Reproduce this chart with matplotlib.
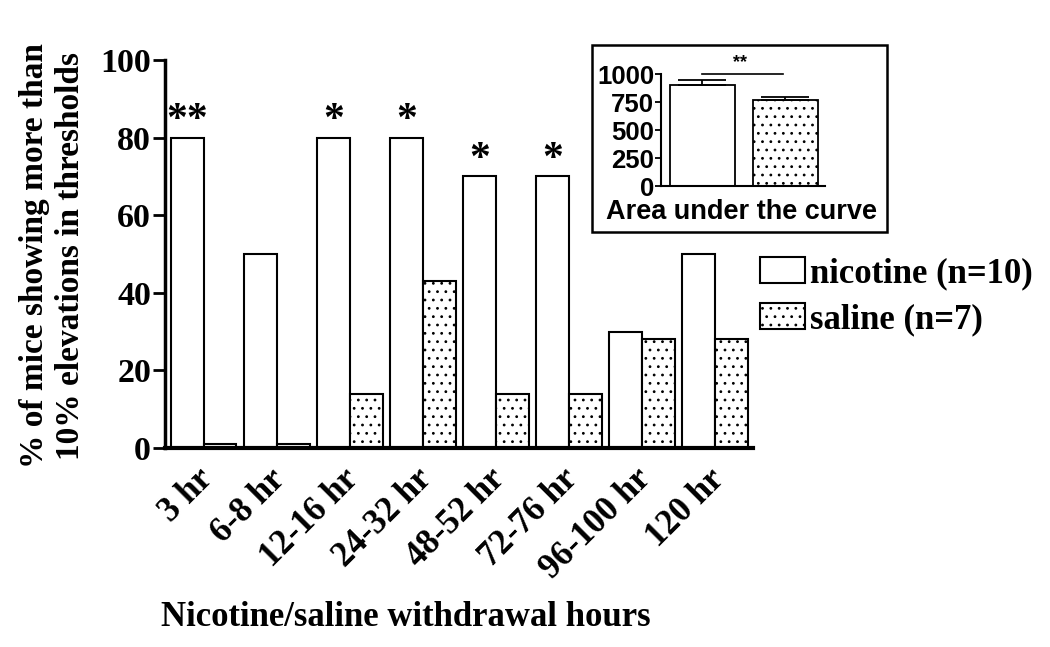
import numpy as np
import matplotlib
matplotlib.use("Agg")
import matplotlib.pyplot as plt
from matplotlib.patches import Rectangle

# ---------------- data ----------------
categories = ["3 hr", "6-8 hr", "12-16 hr", "24-32 hr", "48-52 hr", "72-76 hr", "96-100 hr", "120 hr"]
nicotine = [80, 50, 80, 80, 70, 70, 30, 50]
saline = [1, 1, 14, 43, 14, 14, 28, 28]
stars = ["**", "", "*", "*", "*", "*", "", ""]
series_labels = ["nicotine (n=10)", "saline (n=7)"]
yticks = [0, 20, 40, 60, 80, 100]

auc_groups = ["nicotine", "saline"]
auc_values = [902, 768]
auc_err = [44, 29]
auc_yticks = [0, 250, 500, 750, 1000]

plt.rcParams["hatch.linewidth"] = 0.8

# ---------------- figure ----------------
W, H = 1050, 647
fig = plt.figure(figsize=(W / 100, H / 100), dpi=100)

def fx(px):
    return px / W

def fy(py):
    return 1 - py / H

serif = ["Liberation Serif", "DejaVu Serif"]
sans = ["Liberation Sans", "DejaVu Sans"]

ax = fig.add_axes([fx(165), fy(448), fx(753) - fx(165), fy(60) - fy(448)])

x = np.arange(len(categories))
w = 0.45
ax.bar(x - w / 2, nicotine, w, color="white", edgecolor="black", linewidth=1.5,
       label=series_labels[0], zorder=2)
ax.bar(x + w / 2, saline, w, color="white", edgecolor="black", linewidth=1.5,
       hatch="..", label=series_labels[1], zorder=2)

for xi, v, s in zip(x, nicotine, stars):
    if s:
        ax.annotate(s, (xi - w / 2, v), xytext=(0, -2), textcoords="offset points",
                    ha="center", va="bottom", fontsize=30, fontweight="bold",
                    family=serif)

ax.set_xlim(-0.527, 7.517)
ax.set_ylim(0, 100)
ax.set_yticks(yticks)
ax.set_yticklabels([str(t) for t in yticks], fontsize=24.5, fontweight="bold", family=serif)
# invisible ticks, nudged slightly right so the rotated labels sit like the original
ax.set_xticks(x + 0.055)
ax.set_xticklabels(categories, rotation=45, ha="right", va="center",
                   rotation_mode="anchor", fontsize=25, fontweight="bold", family=serif)
ax.tick_params(axis="x", length=0, pad=19)
ax.tick_params(axis="y", length=9, width=2, pad=1)
for sp in ["top", "right"]:
    ax.spines[sp].set_visible(False)
ax.spines["left"].set_linewidth(2.5)
ax.spines["bottom"].set_linewidth(3)

ax.set_ylabel("% of mice showing more than\n10% elevations in thresholds",
              fontsize=24, fontweight="bold", family=serif, linespacing=1.2)
ax.yaxis.set_label_coords(fx(86), fy(256), transform=fig.transFigure)
ax.set_xlabel("Nicotine/saline withdrawal hours", fontsize=25, fontweight="bold",
              family=serif)
ax.xaxis.set_label_coords(fx(406), fy(601), transform=fig.transFigure)

ax.legend(loc="upper left", bbox_to_anchor=(fx(760), fy(257)),
          bbox_transform=fig.transFigure, frameon=False,
          prop={"family": serif, "weight": "bold", "size": 25},
          handlelength=1.3, handleheight=0.78, handletextpad=0.15,
          labelspacing=0.38, borderpad=0, borderaxespad=0)

# ---------------- inset ----------------
fig.patches.append(Rectangle((fx(592), fy(232)), fx(887) - fx(592), fy(45) - fy(232),
                             transform=fig.transFigure, fill=False, edgecolor="black",
                             linewidth=1.8))

iax = fig.add_axes([fx(661), fy(186), fx(825) - fx(661), fy(74) - fy(186)])
ix = np.arange(len(auc_groups))
iw = 0.78
iax.bar(ix[0], auc_values[0], iw, color="white", edgecolor="black", linewidth=1.3)
iax.bar(ix[1], auc_values[1], iw, color="white", edgecolor="black", linewidth=1.3, hatch="..")
iax.errorbar(ix, auc_values, yerr=[[0, 0], auc_err], fmt="none", ecolor="black",
             elinewidth=1.3, capsize=17, capthick=1.3)
iax.plot([0.0, 0.97], [1000, 1000], color="black", linewidth=1.2, clip_on=False)
iax.text(0.45, 1030, "**", ha="center", va="bottom", fontsize=13, fontweight="bold",
         family=sans)
iax.set_xlim(-0.5, 1.476)
iax.set_ylim(0, 1000)
iax.set_yticks(auc_yticks)
iax.set_yticklabels([str(t) for t in auc_yticks], fontsize=18.5, fontweight="bold", family=sans)
iax.set_xticks([])
iax.tick_params(axis="y", length=4, width=1.3, pad=1)
for sp in ["top", "right"]:
    iax.spines[sp].set_visible(False)
iax.spines["left"].set_linewidth(1.5)
iax.spines["bottom"].set_linewidth(1.5)
iax.set_xlabel("Area under the curve", fontsize=19.5, fontweight="bold", family=sans)
iax.xaxis.set_label_coords(fx(742), fy(199), transform=fig.transFigure)

fig.savefig("out.png", dpi=100)
